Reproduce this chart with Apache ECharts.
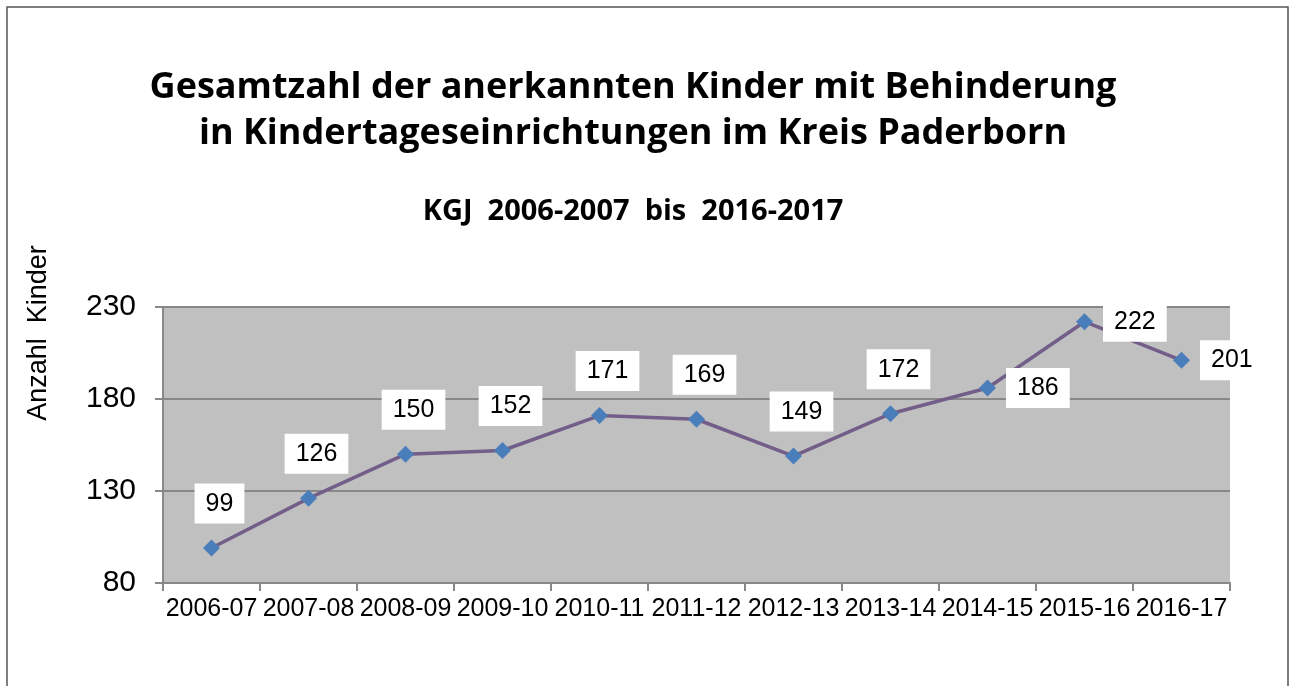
<!doctype html>
<html>
<head>
<meta charset="utf-8">
<title>Kinder mit Behinderung</title>
<script src="https://cdn.jsdelivr.net/npm/echarts@6/dist/echarts.min.js"></script>
<style>
  html, body { margin: 0; padding: 0; background: #fff; }
  #container { width: 1292px; height: 686px; }
</style>
</head>
<body>
<div id="container"></div>
<script type="text/javascript">
    // Kindergartenjahre
    var jahre = ['2006-07', '2007-08', '2008-09', '2009-10', '2010-11', '2011-12',
                 '2012-13', '2013-14', '2014-15', '2015-16', '2016-17'];
    // anerkannte Kinder mit Behinderung
    var anzahl = [99, 126, 150, 152, 171, 169, 149, 172, 186, 222, 201];
    var yTicks = [80, 130, 180, 230];

    var titel1 = 'Gesamtzahl der anerkannten Kinder mit Behinderung';
    var titel2 = 'in Kindertageseinrichtungen im Kreis Paderborn';
    var untertitel = 'KGJ  2006-2007  bis  2016-2017';
    var achsenName = 'Anzahl  Kinder';

    var arial = '"Liberation Sans", Arial, sans-serif';
    var myChart = echarts.init(document.getElementById('container'));

    var labelBox = {
        show: true,
        color: '#000',
        fontFamily: arial,
        fontSize: 25,
        backgroundColor: '#fff',
        padding: [8, 11, 7, 11]
    };

    // die letzten drei Werte stehen rechts vom Punkt
    var punkte = anzahl.map(function (v, i) {
        if (i >= 8) {
            return { value: v, label: { position: 'right', distance: 10 } };
        }
        return { value: v, label: { position: 'top', distance: 16, offset: [8, 0] } };
    });

    var option = {
        animation: false,
        graphic: [
            {
                type: 'rect', silent: true,
                shape: { x: 7, y: 7, width: 1281, height: 720 },
                style: { fill: 'none', stroke: '#555', lineWidth: 1.5 }
            },
            {
                type: 'text', x: 633, y: 88,
                style: {
                    text: titel1, align: 'center', verticalAlign: 'middle',
                    font: 'bold 36px "Open Sans", sans-serif', fill: '#000'
                }
            },
            {
                type: 'text', x: 633, y: 134,
                style: {
                    text: titel2, align: 'center', verticalAlign: 'middle',
                    font: 'bold 36px "Open Sans", sans-serif', fill: '#000'
                }
            },
            {
                type: 'text', x: 633, y: 212,
                style: {
                    text: untertitel, align: 'center', verticalAlign: 'middle',
                    font: 'bold 29px "Open Sans", sans-serif', fill: '#000'
                }
            },
            {
                type: 'text', x: 39, y: 333, rotation: Math.PI / 2,
                style: {
                    text: achsenName, align: 'center', verticalAlign: 'middle',
                    font: '27px ' + arial, fill: '#000'
                }
            }
        ],
        grid: {
            left: 163,
            right: 62,
            top: 307,
            bottom: 103,
            show: true,
            backgroundColor: '#c0c0c0',
            borderWidth: 0
        },
        xAxis: {
            type: 'category',
            data: jahre,
            boundaryGap: true,
            axisLine: { lineStyle: { color: '#888', width: 2 } },
            axisTick: { show: true, length: 8, lineStyle: { color: '#888', width: 2 } },
            axisLabel: {
                color: '#000', fontSize: 25, margin: 14, interval: 0,
                fontFamily: arial
            }
        },
        yAxis: {
            type: 'value',
            min: yTicks[0],
            max: yTicks[yTicks.length - 1],
            interval: 50,
            axisLine: { show: true, lineStyle: { color: '#888', width: 2 } },
            axisTick: { show: true, length: 8, lineStyle: { color: '#888', width: 2 } },
            axisLabel: {
                color: '#000', fontSize: 30, margin: 27,
                fontFamily: arial
            },
            splitLine: { show: true, lineStyle: { color: '#888', width: 2 } }
        },
        series: [
            {
                type: 'line',
                data: punkte,
                symbol: 'diamond',
                symbolSize: 17,
                itemStyle: { color: '#4a7ebb' },
                lineStyle: { color: '#725e88', width: 3.5 },
                label: labelBox,
                z: 3
            }
        ]
    };

    myChart.setOption(option);
</script>
</body>
</html>
